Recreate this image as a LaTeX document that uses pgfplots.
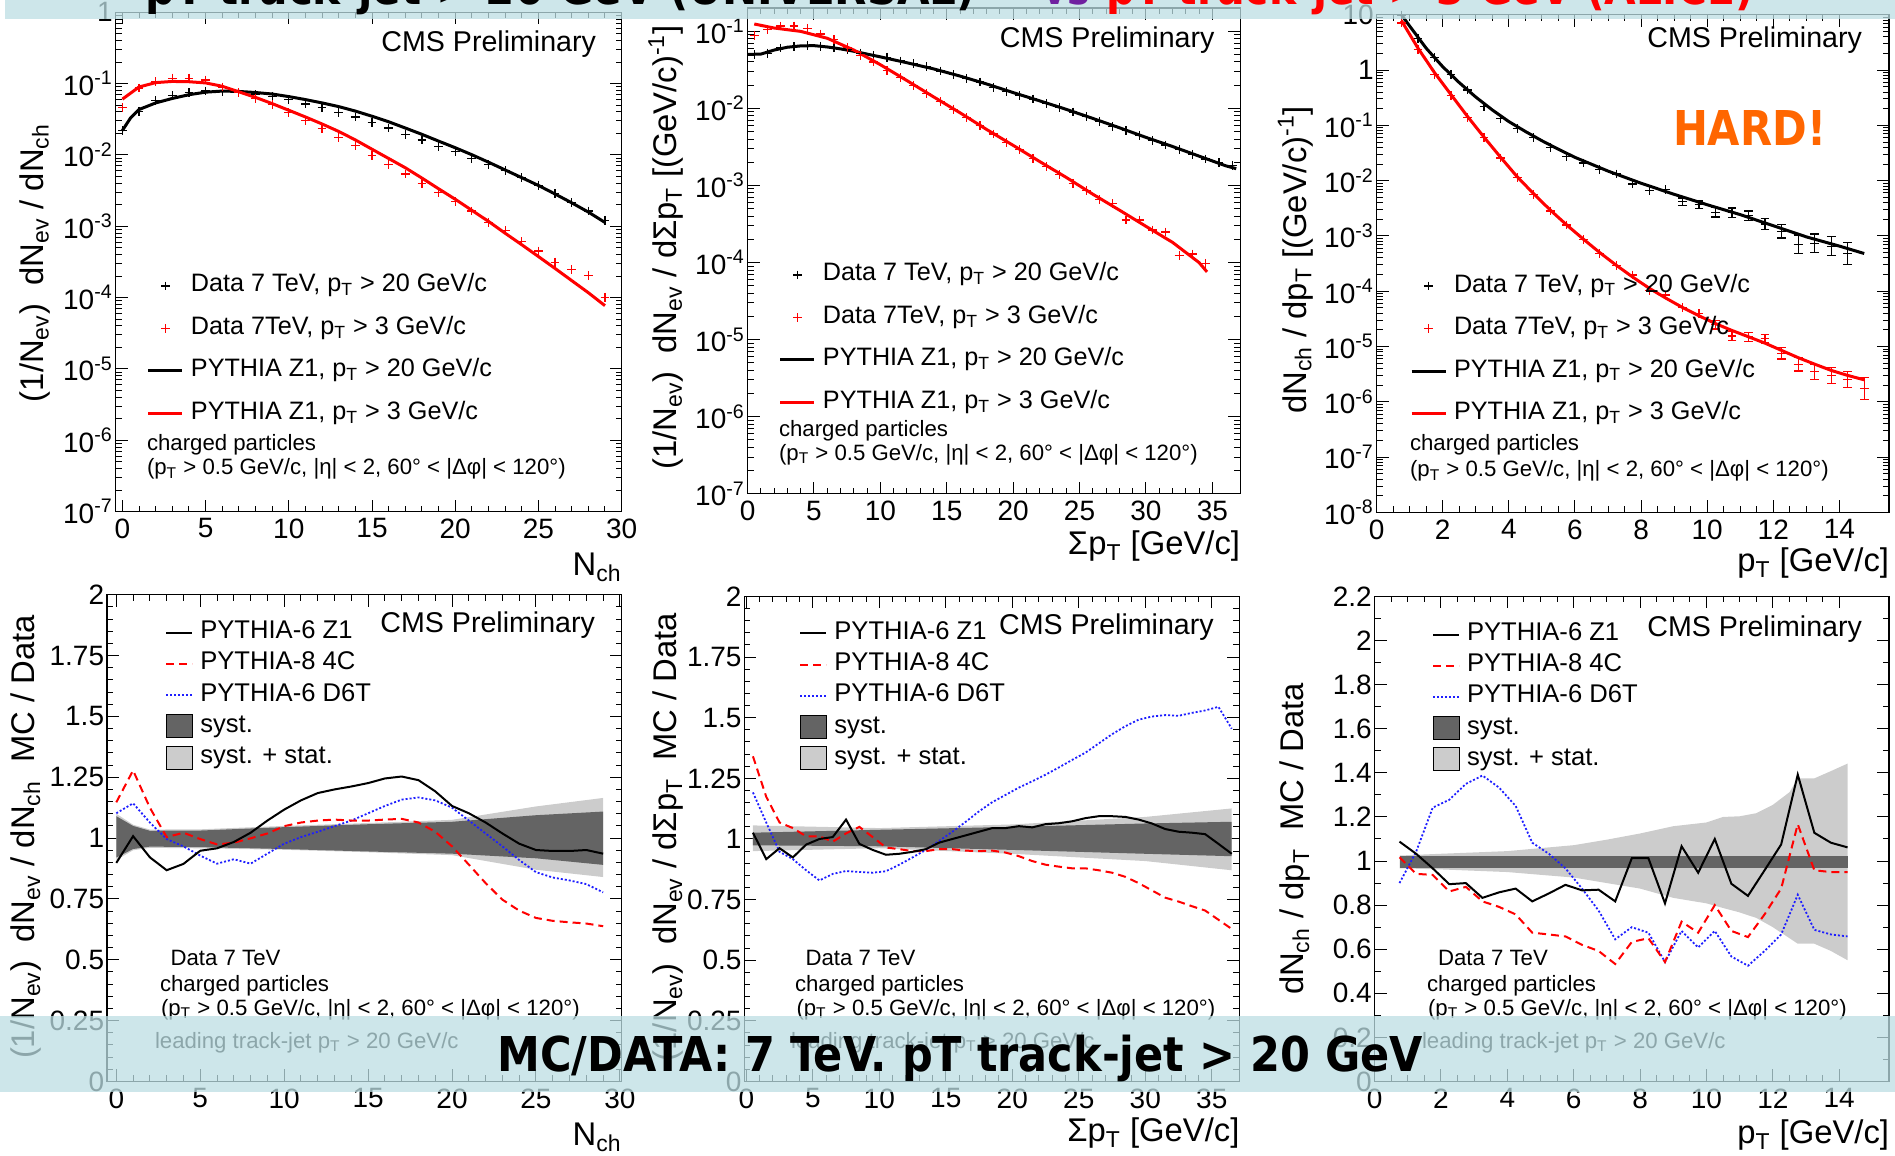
\documentclass[border=0pt]{standalone}
\usepackage{fontspec}
\setmainfont{Liberation Sans}
\newfontfamily\bannerfont{DejaVu Sans}
\usepackage{graphicx}
\usepackage{pgfplots}
\usepackage{pgfplotstable}
\pgfplotsset{compat=1.18}

\definecolor{bandhi}{RGB}{100,100,100}
\definecolor{bandlo}{RGB}{204,204,204}
\definecolor{bannerc}{RGB}{188,222,227}
\definecolor{hardorange}{RGB}{255,102,0}
\definecolor{vspurple}{RGB}{112,32,160}
\definecolor{rootred}{RGB}{255,0,0}
\definecolor{rootblue}{RGB}{30,30,255}

\newcommand\fs[1]{\fontsize{#1}{#1}\selectfont}
\newcommand\sub[1]{\textsubscript{#1}}
\newcommand\sups[1]{\textsuperscript{#1}}

\pgfplotsset{
  rootframe/.style={
    scale only axis, anchor=south west,
    axis line style={line width=0.6pt},
    every tick/.style={black, line width=0.5pt},
    major tick length=6pt, minor tick length=3pt,
    tick align=inside, xtick pos=both, ytick pos=both,
    tick label style={font=\fs{14}},
    yticklabel style={inner sep=1.2pt},
    legend cell align=left,
  },
  topleg/.style={legend style={draw=none, fill=none, at={(#1)}, anchor=north west,
      inner sep=0pt, outer sep=0pt, row sep=9.25pt,
      nodes={inner sep=0pt, text height=9pt, text depth=3pt},
      font=\fs{12.6},
      /tikz/every odd column/.append style={column sep=3.5pt}}},
  botleg/.style={legend style={draw=none, fill=none, at={(#1)}, anchor=north west,
      inner sep=0pt, outer sep=0pt, row sep=3.6pt,
      nodes={inner sep=0pt, text height=9pt, text depth=3pt},
      font=\fs{12.8},
      /tikz/every odd column/.append style={column sep=3.5pt}}},
  leglineTop/.style={legend image code/.code={\draw[##1] (0pt,0pt) -- (17pt,0pt);}},
  leglineBot/.style={legend image code/.code={\draw[##1] (0pt,0pt) -- (13pt,0pt);}},
  legmarkTop/.style={legend image code/.code={\draw[##1] plot coordinates {(8.5pt,0pt)};}},
  legbox/.style={legend image code/.code={\fill[##1] (0pt,-5.75pt) rectangle (13pt,5.75pt);}},
  datamark/.style={only marks, mark=+, mark size=2.2pt, mark options={line width=0.6pt}},
  mcline/.style={line width=1.5pt},
  z1/.style={black, line width=1pt},
  p8/.style={rootred, line width=1pt, dash pattern=on 4pt off 2.5pt},
  d6t/.style={rootblue, line width=0.9pt, dash pattern=on 1pt off 1pt},
}

% ---------- distributions, leading track-jet pT > 20 GeV/c and > 3 GeV/c ----------
\pgfplotstableread{
x y
0 0.022
1 0.041
2 0.058
3 0.068
4 0.075
5 0.0785
6 0.078
7 0.075
8 0.0697
9 0.0656
10 0.059
11 0.0517
12 0.0458
13 0.0397
14 0.034
15 0.0288
16 0.0238
17 0.0194
18 0.0162
19 0.0132
20 0.0111
21 0.0089
22 0.00728
23 0.00601
24 0.00479
25 0.00377
26 0.00287
27 0.00213
28 0.00163
29 0.00121
}\nchDataHi
\pgfplotstableread{
x y
0 0.022
0.5 0.0332
1 0.0432
2 0.0535
3 0.0618
4 0.0697
5 0.0757
6 0.0784
7 0.0775
8 0.0748
9 0.0713
10 0.0656
11 0.0596
12 0.0535
13 0.0475
14 0.0411
15 0.0348
16 0.0291
17 0.0238
18 0.0194
19 0.0156
20 0.0126
21 0.01005
22 0.0079
23 0.00615
24 0.00479
25 0.00373
26 0.00283
27 0.00213
28 0.00158
29 0.00113
}\nchMcHi
\pgfplotstableread{
x y
0 0.0464
1 0.0863
2 0.107
3 0.119
4 0.119
5 0.112
6 0.0895
7 0.0748
8 0.0618
9 0.0504
10 0.0388
11 0.0302
12 0.0232
13 0.0176
14 0.0134
15 0.0098
16 0.00728
17 0.0054
18 0.0040
19 0.00297
20 0.0022
21 0.00163
22 0.00114
23 0.000867
24 0.000606
25 0.00045
26 0.000314
27 0.000247
28 0.000202
29 0.000101
}\nchDataLo
\pgfplotstableread{
x y
0 0.0604
1 0.0895
2 0.103
3 0.107
4 0.106
5 0.102
6 0.0916
7 0.0766
8 0.064
9 0.0523
10 0.0422
11 0.034
12 0.0271
13 0.0213
14 0.0162
15 0.012
16 0.0089
17 0.0066
18 0.00473
19 0.00335
20 0.00239
21 0.00167
22 0.00117
23 0.000798
24 0.00055
25 0.000376
26 0.000256
27 0.000173
28 0.000117
29 0.000077
}\nchMcLo

\pgfplotstableread{
x y
0.5 0.050
1.5 0.052
2.5 0.0606
3.5 0.0627
4.5 0.0655
5.5 0.064
6.5 0.0606
7.5 0.0586
8.5 0.052
9.5 0.0486
10.5 0.0459
11.5 0.0411
12.5 0.0381
13.5 0.0349
14.5 0.0305
15.5 0.0273
16.5 0.0242
17.5 0.0219
18.5 0.0188
19.5 0.0166
20.5 0.0147
21.5 0.0132
22.5 0.01153
23.5 0.01033
24.5 0.00895
25.5 0.00784
26.5 0.00679
27.5 0.00582
28.5 0.00515
29.5 0.00446
30.5 0.00382
31.5 0.00335
32.5 0.0029
33.5 0.00254
34.5 0.0022
35.5 0.00197
36.5 0.00182
}\sumDataHi
\pgfplotstableread{
x y
0 0.050
1 0.0505
2 0.057
3 0.062
4 0.0645
5 0.065
6 0.0625
7 0.059
8 0.055
9 0.0505
10 0.0465
12 0.039
14 0.0325
16 0.0262
18 0.0207
20 0.0160
22 0.0125
24 0.0097
26 0.0074
28 0.0056
30 0.0042
32 0.0032
34 0.0024
36 0.0018
36.8 0.00165
}\sumMcHi
\pgfplotstableread{
x y
0.5 0.089
1.5 0.105
2.5 0.117
3.5 0.117
4.5 0.109
5.5 0.092
6.5 0.0772
7.5 0.0620
8.5 0.0486
9.5 0.0398
10.5 0.0312
11.5 0.025
12.5 0.02
13.5 0.0157
14.5 0.0122
15.5 0.00977
16.5 0.00758
17.5 0.00595
18.5 0.00466
19.5 0.00362
20.5 0.0029
21.5 0.00225
22.5 0.00177
23.5 0.00138
24.5 0.00107
25.5 0.00086
26.5 0.000653
27.5 0.000585
28.5 0.000356
29.5 0.000356
30.5 0.000264
31.5 0.000249
32.5 0.000124
33.5 0.000129
34.5 0.0000977
}\sumDataLo
\pgfplotstableread{
x y
0.5 0.124
2 0.11
4 0.0995
6 0.081
8 0.057
10 0.0368
12 0.0229
14 0.0141
16 0.00875
18 0.00532
20 0.00331
22 0.00204
24 0.00127
26 0.00077
28 0.000479
30 0.000295
32 0.000183
34 0.0001
34.6 0.0000757
}\sumMcLo

\pgfplotstableread{
x y
0.75 9.9
1.25 3.76
1.75 1.69
2.25 0.843
2.75 0.435
3.25 0.221
3.75 0.133
4.25 0.0877
4.75 0.0597
5.25 0.04
5.75 0.0276
6.25 0.0209
6.75 0.0161
7.25 0.0132
7.75 0.0087
8.25 0.00659
8.75 0.0069
}\ptDataHiA
\pgfplotstableread{
x y ep em
9.25 0.00416 0.000694 0.000595
9.75 0.00367 0.000612 0.000525
10.25 0.0027 0.000599 0.00049
10.75 0.00262 0.000581 0.000476
11.25 0.00232 0.000515 0.000421
11.75 0.00165 0.000427 0.000339
12.25 0.00121 0.000385 0.000292
12.75 0.000707 0.000332 0.000226
13.25 0.000741 0.000348 0.000237
13.75 0.000655 0.000307 0.000209
14.25 0.000481 0.000281 0.000177
}\ptDataHiB
\pgfplotstableread{
x y
0.75 10
1.0 6.25
1.5 2.48
2 1.15
2.5 0.593
3 0.325
3.5 0.19
4 0.117
4.5 0.0776
5 0.0527
5.5 0.037
6 0.0264
7 0.0149
8 0.00898
9 0.00566
10 0.00367
11 0.00243
12 0.00153
13 0.000962
14 0.000655
14.75 0.000481
}\ptMcHi
\pgfplotstableread{
x y
0.75 7.08
1.25 2.37
1.75 0.843
2.25 0.345
2.75 0.137
3.25 0.0597
3.75 0.0256
4.25 0.0113
4.75 0.00566
5.25 0.00283
5.75 0.00158
6.25 0.000863
6.75 0.000481
7.25 0.000289
7.75 0.000197
8.25 0.000103
8.75 0.0000857
9.25 0.000050
9.75 0.0000397
}\ptDataLoA
\pgfplotstableread{
x y ep em
10.25 0.000025 0.00000506 0.0000042
10.75 0.0000155 0.00000314 0.00000261
11.25 0.000015 0.00000303 0.00000252
11.75 0.0000139 0.00000281 0.00000234
12.25 0.00000752 0.00000195 0.00000155
12.75 0.00000474 0.00000151 0.00000114
13.25 0.00000348 0.00000126 0.00000092
13.75 0.00000298 0.0000012 0.00000086
14.25 0.00000256 0.00000103 0.00000073
14.75 0.00000174 0.00000102 0.00000064
}\ptDataLoB
\pgfplotstableread{
x y
0.75 7.87
1.25 2.5
1.75 0.9
2.25 0.36
2.75 0.145
3.25 0.061
3.75 0.0265
4.25 0.0118
4.75 0.0058
5.25 0.00295
5.75 0.00158
6.25 0.00088
6.75 0.0005
7.25 0.000295
7.75 0.00018
8.25 0.000113
8.75 0.000075
9.25 0.000051
9.75 0.000036
10.25 0.000026
10.75 0.0000195
11.25 0.000015
11.75 0.0000115
12.25 0.0000085
12.75 0.0000063
13.25 0.0000048
13.75 0.0000037
14.25 0.000003
14.75 0.0000025
}\ptMcLo

% ---------- MC / Data ratios, leading track-jet pT > 20 GeV/c ----------
% uncertainty bands as closed outlines: upper edge forward, lower edge back
\pgfplotstableread{
x y
0 1.10
1 1.055
2 1.035
5 1.036
10 1.05
15 1.062
20 1.075
25 1.13
29 1.165
29 0.84
25 0.87
20 0.93
15 0.942
10 0.952
5 0.958
2 0.96
1 0.95
0 0.91
}\totNch
\pgfplotstableread{
x y
0 1.09
1 1.05
2 1.03
5 1.031
10 1.045
15 1.057
20 1.067
25 1.094
29 1.109
29 0.89
25 0.917
20 0.936
15 0.945
10 0.955
5 0.963
2 0.965
1 0.955
0 0.92
}\systNch
\pgfplotstableread{
x z1 p8 d6t
0 0.898 1.147 1.102
1 1.008 1.278 1.143
2 0.921 1.125 1.064
3 0.868 1.004 0.996
4 0.894 1.022 0.966
5 0.948 0.996 0.928
6 0.958 0.974 0.895
7 0.984 0.981 0.913
8 1.022 0.999 0.895
9 1.072 1.019 0.936
10 1.117 1.049 0.977
11 1.155 1.064 1.004
12 1.185 1.072 1.026
13 1.2 1.076 1.049
14 1.212 1.072 1.072
15 1.226 1.072 1.102
16 1.245 1.076 1.132
17 1.253 1.079 1.158
18 1.238 1.064 1.167
19 1.192 1.026 1.155
20 1.132 0.966 1.125
21 1.102 0.891 1.072
22 1.064 0.815 1.019
23 1.019 0.747 0.966
24 0.977 0.702 0.91
25 0.951 0.672 0.86
26 0.947 0.66 0.838
27 0.947 0.654 0.826
28 0.951 0.649 0.811
29 0.936 0.638 0.777
}\ratioNch

\pgfplotstableread{
x y
0.5 1.056
10 1.045
20 1.06
30 1.091
36.5 1.126
36.5 0.871
30 0.909
20 0.939
10 0.962
0.5 0.95
}\totSum
\pgfplotstableread{
x y
0.5 1.026
10 1.038
20 1.05
30 1.064
36.5 1.071
36.5 0.929
30 0.939
20 0.955
10 0.970
0.5 0.974
}\systSum
\pgfplotstableread{
x z1 p8 d6t
0.5 1.026 1.341 1.192
1.5 0.917 1.174 1.068
2.5 0.962 1.068 0.947
3.5 0.924 1.045 0.917
4.5 0.977 1.011 0.871
5.5 1.0 1.011 0.829
6.5 1.008 0.989 0.856
7.5 1.08 1.023 0.868
8.5 0.98 1.05 0.864
9.5 0.955 1.008 0.861
10.5 0.935 0.965 0.867
11.5 0.939 0.958 0.894
12.5 0.947 0.95 0.924
13.5 0.958 0.95 0.955
14.5 0.985 0.958 0.992
15.5 1.0 0.958 1.03
16.5 1.015 0.952 1.071
17.5 1.03 0.95 1.114
18.5 1.045 0.952 1.152
19.5 1.045 0.944 1.182
20.5 1.053 0.929 1.212
21.5 1.048 0.909 1.238
22.5 1.061 0.894 1.265
23.5 1.065 0.886 1.295
24.5 1.073 0.879 1.326
25.5 1.086 0.879 1.356
26.5 1.094 0.871 1.394
27.5 1.094 0.861 1.432
28.5 1.091 0.844 1.465
29.5 1.08 0.818 1.492
30.5 1.064 0.788 1.505
31.5 1.041 0.758 1.511
32.5 1.03 0.742 1.508
33.5 1.026 0.723 1.52
34.5 1.02 0.705 1.53
35.5 0.98 0.667 1.545
36.5 0.939 0.629 1.455
}\ratioSum

\pgfplotstableread{
x y
0.75 1.025
2 1.033
4 1.045
6 1.072
7 1.097
8 1.125
9 1.158
10 1.175
10.5 1.2
11 1.203
11.5 1.217
12 1.255
12.5 1.312
12.75 1.375
13.25 1.375
13.75 1.408
14.25 1.442
14.25 0.55
13.75 0.592
13.25 0.625
12.75 0.625
12.5 0.65
12 0.7
11.5 0.742
11 0.767
10.5 0.787
10 0.808
9 0.833
8 0.875
7 0.9
6 0.925
4 0.95
2 0.962
0.75 0.967
}\totPt
\pgfplotstableread{
x y
0.75 1.025
14.25 1.025
14.25 0.967
0.75 0.967
}\systPt
\pgfplotstableread{
x z1 p8 d6t
0.75 1.088 1.017 0.9
1.25 1.033 0.942 1.042
1.75 0.967 0.937 1.242
2.25 0.895 0.862 1.278
2.75 0.9 0.883 1.35
3.25 0.833 0.817 1.388
3.75 0.858 0.792 1.333
4.25 0.875 0.758 1.25
4.75 0.817 0.675 1.083
5.25 0.853 0.667 1.033
5.75 0.892 0.658 0.967
6.25 0.867 0.62 0.875
6.75 0.87 0.592 0.775
7.25 0.817 0.533 0.645
7.75 1.013 0.633 0.7
8.25 1.013 0.65 0.675
8.75 0.808 0.542 0.542
9.25 1.067 0.725 0.683
9.75 0.947 0.675 0.608
10.25 1.1 0.8 0.683
10.75 0.897 0.683 0.567
11.25 0.842 0.655 0.525
11.75 0.958 0.758 0.592
12.25 1.075 0.875 0.667
12.75 1.392 1.167 0.847
13.25 1.128 0.958 0.688
13.75 1.083 0.95 0.667
14.25 1.062 0.95 0.658
}\ratioPt

\begin{document}
\begin{tikzpicture}
% page frame
\path (0pt,0pt) rectangle (947.5pt,578pt);

% ===== top left: N_ch =====
\begin{axis}[rootframe, ymode=log, at={(57.75pt,322.2pt)}, width=253.05pt, height=249.7pt,
  xmin=-0.415, xmax=30, ymin=1e-7, ymax=1,
  xtick={0,5,...,30}, minor x tick num=4,
  ytick={1e-7,1e-6,1e-5,1e-4,1e-3,1e-2,1e-1,1},
  yticklabels={10\sups{-7},10\sups{-6},10\sups{-5},10\sups{-4},10\sups{-3},10\sups{-2},10\sups{-1},1},
  xticklabels={0,5,10,15,20,25,30},
  topleg={0.0622,0.4758}]
\addplot[black, mcline, forget plot] table {\nchMcHi};
\addplot[rootred, mcline, forget plot] table {\nchMcLo};
\addplot[black, datamark, forget plot] table {\nchDataHi};
\addplot[rootred, datamark, forget plot] table {\nchDataLo};
\addlegendimage{legmarkTop, black, datamark}
\addlegendentry{Data 7 TeV, p\sub{T} > 20 GeV/c}
\addlegendimage{legmarkTop, rootred, datamark}
\addlegendentry{Data 7TeV, p\sub{T} > 3 GeV/c}
\addlegendimage{leglineTop, black, mcline}
\addlegendentry{PYTHIA Z1, p\sub{T} > 20 GeV/c}
\addlegendimage{leglineTop, rootred, mcline}
\addlegendentry{PYTHIA Z1, p\sub{T} > 3 GeV/c}
\end{axis}

% ===== top middle: sum pT =====
\begin{axis}[rootframe, ymode=log, at={(373.8pt,331.05pt)}, width=246.3pt, height=242.9pt,
  xmin=0, xmax=37.1, ymin=1e-7, ymax=0.1995,
  xtick={0,5,...,35}, minor x tick num=4,
  xticklabels={0,5,10,15,20,25,30,35},
  ytick={1e-7,1e-6,1e-5,1e-4,1e-3,1e-2,1e-1},
  yticklabels={10\sups{-7},10\sups{-6},10\sups{-5},10\sups{-4},10\sups{-3},10\sups{-2},10\sups{-1}},
  topleg={0.0637,0.4753}]
\addplot[black, mcline, forget plot] table {\sumMcHi};
\addplot[rootred, mcline, forget plot] table {\sumMcLo};
\addplot[black, datamark, forget plot] table {\sumDataHi};
\addplot[rootred, datamark, forget plot] table {\sumDataLo};
\addlegendimage{legmarkTop, black, datamark}
\addlegendentry{Data 7 TeV, p\sub{T} > 20 GeV/c}
\addlegendimage{legmarkTop, rootred, datamark}
\addlegendentry{Data 7TeV, p\sub{T} > 3 GeV/c}
\addlegendimage{leglineTop, black, mcline}
\addlegendentry{PYTHIA Z1, p\sub{T} > 20 GeV/c}
\addlegendimage{leglineTop, rootred, mcline}
\addlegendentry{PYTHIA Z1, p\sub{T} > 3 GeV/c}
\end{axis}

% ===== top right: pT =====
\begin{axis}[rootframe, ymode=log, at={(688.3pt,321.8pt)}, width=256.2pt, height=248.8pt,
  xmin=0, xmax=15.5, ymin=1e-8, ymax=10,
  xtick={0,2,...,14}, minor x tick num=3,
  xticklabels={0,2,4,6,8,10,12,14},
  ytick={1e-8,1e-7,1e-6,1e-5,1e-4,1e-3,1e-2,1e-1,1,10},
  yticklabels={10\sups{-8},10\sups{-7},10\sups{-6},10\sups{-5},10\sups{-4},10\sups{-3},10\sups{-2},10\sups{-1},1,10},
  topleg={0.0652,0.479}]
\addplot[black, mcline, forget plot] table {\ptMcHi};
\addplot[rootred, mcline, forget plot] table {\ptMcLo};
\addplot[black, datamark, forget plot] table {\ptDataHiA};
\addplot[black, datamark, forget plot,
  error bars/.cd, y dir=both, y explicit, error mark options={rotate=90, mark size=2.2pt, line width=0.6pt},
  error bar style={line width=0.6pt}]
  table[x=x, y=y, y error plus=ep, y error minus=em] {\ptDataHiB};
\addplot[rootred, datamark, forget plot] table {\ptDataLoA};
\addplot[rootred, datamark, forget plot,
  error bars/.cd, y dir=both, y explicit, error mark options={rotate=90, mark size=2.2pt, line width=0.6pt},
  error bar style={line width=0.6pt}]
  table[x=x, y=y, y error plus=ep, y error minus=em] {\ptDataLoB};
\addlegendimage{legmarkTop, black, datamark}
\addlegendentry{Data 7 TeV, p\sub{T} > 20 GeV/c}
\addlegendimage{legmarkTop, rootred, datamark}
\addlegendentry{Data 7TeV, p\sub{T} > 3 GeV/c}
\addlegendimage{leglineTop, black, mcline}
\addlegendentry{PYTHIA Z1, p\sub{T} > 20 GeV/c}
\addlegendimage{leglineTop, rootred, mcline}
\addlegendentry{PYTHIA Z1, p\sub{T} > 3 GeV/c}
\end{axis}

% ===== bottom left: ratio vs N_ch =====
\begin{axis}[rootframe, at={(53.45pt,37.25pt)}, width=257.35pt, height=243.4pt,
  xmin=-0.56, xmax=30.1, xtick={0,5,...,30}, minor x tick num=4,
  xticklabels={0,5,10,15,20,25,30},
  ymin=0, ymax=2, ytick={0,0.25,0.5,0.75,1,1.25,1.5,1.75,2},
  yticklabels={0,0.25,0.5,0.75,1,1.25,1.5,1.75,2}, minor y tick num=4,
  botleg={0.1135,0.9464}]
\addplot[fill=bandlo, draw=none, forget plot] table {\totNch} -- cycle;
\addplot[fill=bandhi, draw=none, forget plot] table {\systNch} -- cycle;
\addplot[d6t, forget plot] table[x=x, y=d6t] {\ratioNch};
\addplot[p8, forget plot] table[x=x, y=p8] {\ratioNch};
\addplot[z1, forget plot] table[x=x, y=z1] {\ratioNch};
\addlegendimage{leglineBot, z1}
\addlegendentry{PYTHIA-6 Z1}
\addlegendimage{leglineBot, p8}
\addlegendentry{PYTHIA-8 4C}
\addlegendimage{leglineBot, d6t}
\addlegendentry{PYTHIA-6 D6T}
\addlegendimage{legbox, fill=bandhi}
\addlegendentry{syst.}
\addlegendimage{legbox, fill=bandlo}
\addlegendentry{syst. + stat.}
\end{axis}

% ===== bottom middle: ratio vs sum pT =====
\begin{axis}[rootframe, at={(372.15pt,37.25pt)}, width=247.5pt, height=242.5pt,
  xmin=-0.15, xmax=37.07, xtick={0,5,...,35}, minor x tick num=4,
  xticklabels={0,5,10,15,20,25,30,35},
  ymin=0, ymax=2, ytick={0,0.25,0.5,0.75,1,1.25,1.5,1.75,2},
  yticklabels={0,0.25,0.5,0.75,1,1.25,1.5,1.75,2}, minor y tick num=4,
  botleg={0.1113,0.9485}]
\addplot[fill=bandlo, draw=none, forget plot] table {\totSum} -- cycle;
\addplot[fill=bandhi, draw=none, forget plot] table {\systSum} -- cycle;
\addplot[d6t, forget plot] table[x=x, y=d6t] {\ratioSum};
\addplot[p8, forget plot] table[x=x, y=p8] {\ratioSum};
\addplot[z1, forget plot] table[x=x, y=z1] {\ratioSum};
\addlegendimage{leglineBot, z1}
\addlegendentry{PYTHIA-6 Z1}
\addlegendimage{leglineBot, p8}
\addlegendentry{PYTHIA-8 4C}
\addlegendimage{leglineBot, d6t}
\addlegendentry{PYTHIA-6 D6T}
\addlegendimage{legbox, fill=bandhi}
\addlegendentry{syst.}
\addlegendimage{legbox, fill=bandlo}
\addlegendentry{syst. + stat.}
\end{axis}

% ===== bottom right: ratio vs pT =====
\begin{axis}[rootframe, at={(687.3pt,37.25pt)}, width=257.2pt, height=242.5pt,
  xmin=0, xmax=15.5, xtick={0,2,...,14}, minor x tick num=3,
  xticklabels={0,2,4,6,8,10,12,14},
  ymin=0, ymax=2.2, ytick={0,0.2,0.4,0.6,0.8,1,1.2,1.4,1.6,1.8,2,2.2},
  yticklabels={0,0.2,0.4,0.6,0.8,1,1.2,1.4,1.6,1.8,2,2.2}, minor y tick num=1,
  botleg={0.1116,0.9462}]
\addplot[fill=bandlo, draw=none, forget plot] table {\totPt} -- cycle;
\addplot[fill=bandhi, draw=none, forget plot] table {\systPt} -- cycle;
\addplot[d6t, forget plot] table[x=x, y=d6t] {\ratioPt};
\addplot[p8, forget plot] table[x=x, y=p8] {\ratioPt};
\addplot[z1, forget plot] table[x=x, y=z1] {\ratioPt};
\addlegendimage{leglineBot, z1}
\addlegendentry{PYTHIA-6 Z1}
\addlegendimage{leglineBot, p8}
\addlegendentry{PYTHIA-8 4C}
\addlegendimage{leglineBot, d6t}
\addlegendentry{PYTHIA-6 D6T}
\addlegendimage{legbox, fill=bandhi}
\addlegendentry{syst.}
\addlegendimage{legbox, fill=bandlo}
\addlegendentry{syst. + stat.}
\end{axis}

% ===== panel texts =====
\begin{scope}[every node/.style={inner sep=0pt, outer sep=0pt}]
% CMS Preliminary
\node[anchor=base east, font=\fs{14.3}] at (298pt,552.1pt) {CMS Preliminary};
\node[anchor=base east, font=\fs{14.3}] at (607.25pt,554pt) {CMS Preliminary};
\node[anchor=base east, font=\fs{14.3}] at (931pt,554pt) {CMS Preliminary};
\node[anchor=base east, font=\fs{14.3}] at (297.5pt,261.5pt) {CMS Preliminary};
\node[anchor=base east, font=\fs{14.3}] at (606.85pt,260.5pt) {CMS Preliminary};
\node[anchor=base east, font=\fs{14.3}] at (931pt,259.5pt) {CMS Preliminary};
% selection texts, top row
\node[anchor=base west, font=\fs{11.1}] at (73.5pt,352.5pt) {charged particles};
\node[anchor=base west, font=\fs{11.1}] at (73.5pt,340.5pt) {(p\sub{T} > 0.5 GeV/c, |η| < 2, 60° < |Δφ| < 120°)};
\node[anchor=base west, font=\fs{11.1}] at (389.5pt,359.75pt) {charged particles};
\node[anchor=base west, font=\fs{11.1}] at (389.5pt,347.7pt) {(p\sub{T} > 0.5 GeV/c, |η| < 2, 60° < |Δφ| < 120°)};
\node[anchor=base west, font=\fs{11.1}] at (705pt,352.5pt) {charged particles};
\node[anchor=base west, font=\fs{11.1}] at (705pt,339.5pt) {(p\sub{T} > 0.5 GeV/c, |η| < 2, 60° < |Δφ| < 120°)};
% selection texts, bottom row
\foreach \xa/\xb/\xc/\xd in {85.3/80/80.5/77.5, 402.75/397.5/398.25/395.5, 719/713.5/714/711}{
  \node[anchor=base west, font=\fs{11.1}] at (\xa pt,95pt) {Data 7 TeV};
  \node[anchor=base west, font=\fs{11.1}] at (\xb pt,82pt) {charged particles};
  \node[anchor=base west, font=\fs{11.1}] at (\xc pt,70.3pt) {(p\sub{T} > 0.5 GeV/c, |η| < 2, 60° < |Δφ| < 120°)};
  \node[anchor=base west, font=\fs{11.1}] at (\xd pt,53.7pt) {leading track-jet p\sub{T} > 20 GeV/c};
}
% axis titles
\node[rotate=90, font=\fs{16.4}] at (17.5pt,446.5pt) {(1/N\sub{ev})\ \ dN\sub{ev} / dN\sub{ch}};
\node[rotate=90, font=\fs{16.4}] at (333pt,454.25pt) {(1/N\sub{ev})\ \ dN\sub{ev} / dΣp\sub{T} [(GeV/c)\sups{-1}]};
\node[rotate=90, font=\fs{16.4}] at (647.75pt,448pt) {dN\sub{ch} / dp\sub{T} [(GeV/c)\sups{-1}]};
\node[rotate=90, font=\fs{16.4}] at (13.25pt,159.5pt) {(1/N\sub{ev})\ \ dN\sub{ev} / dN\sub{ch}\ \ MC / Data};
\node[rotate=90, font=\fs{16.4}] at (334.25pt,159.5pt) {(1/N\sub{ev})\ \ dN\sub{ev} / dΣp\sub{T}\ \ MC / Data};
\node[rotate=90, font=\fs{16.4}] at (647.75pt,158.5pt) {dN\sub{ch} / dp\sub{T}\ \ MC / Data};
\node[anchor=base east, font=\fs{16.4}] at (310.8pt,290pt) {N\sub{ch}};
\node[anchor=base east, font=\fs{16.4}] at (620pt,300.5pt) {Σp\sub{T} [GeV/c]};
\node[anchor=base east, font=\fs{16.4}] at (944.5pt,292pt) {p\sub{T} [GeV/c]};
\node[anchor=base east, font=\fs{16.4}, overlay] at (310.8pt,5pt) {N\sub{ch}};
\node[anchor=base east, font=\fs{16.4}, overlay] at (619.7pt,7pt) {Σp\sub{T} [GeV/c]};
\node[anchor=base east, font=\fs{16.4}, overlay] at (944.5pt,6pt) {p\sub{T} [GeV/c]};
% HARD!
\node[anchor=base west, text=hardorange] at (836.5pt,505pt)
  {\scalebox{0.87}[1]{\bannerfont\bfseries\fs{24}HARD!}};
\end{scope}

% ===== banners =====
\fill[bannerc, opacity=0.75] (2.5pt,568.5pt) rectangle (947.5pt,578pt);
\fill[bannerc, opacity=0.75] (0pt,32.15pt) rectangle (947.5pt,69.8pt);
\begin{scope}[every node/.style={inner sep=0pt, overlay, anchor=base west}]
\clip (0pt,560pt) rectangle (947.5pt,578pt);
\node at (72.5pt,575.5pt)
  {\scalebox{0.876}[1]{\bannerfont\bfseries\fs{24}pT track-jet > 20 GeV (UNIVERSAL)}};
\node at (521pt,575.5pt)
  {\scalebox{0.8}[1]{\bannerfont\bfseries\fs{24}\textcolor{vspurple}{vs}}};
\node at (553pt,575.5pt)
  {\scalebox{0.85}[1]{\bannerfont\bfseries\fs{24}\textcolor{rootred}{pT track-jet > 3 GeV (ALICE)}}};
\end{scope}
\node[anchor=base west, inner sep=0pt] at (248.5pt,42pt)
  {\scalebox{0.896}[1]{\bannerfont\bfseries\fs{24}MC/DATA: 7 TeV. pT track-jet > 20 GeV}};
\end{tikzpicture}
\end{document}
